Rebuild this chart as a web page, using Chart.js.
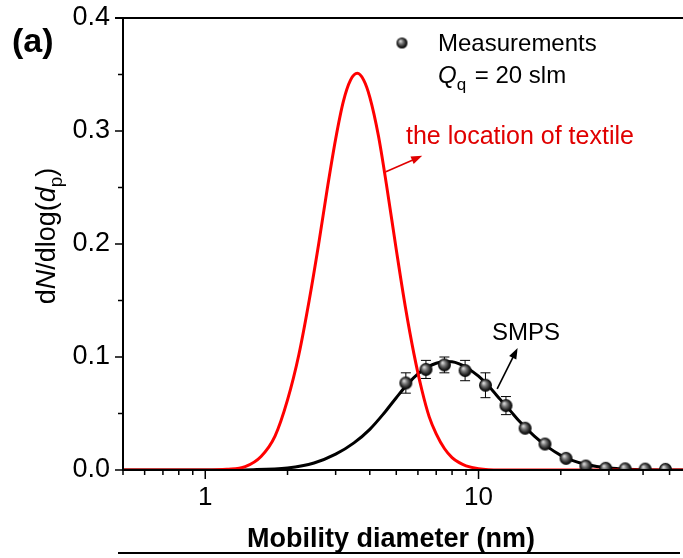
<!DOCTYPE html>
<html lang="en">
<head>
<meta charset="UTF-8">
<title>Size distribution - SMPS vs textile</title>
<script src="https://cdn.jsdelivr.net/npm/chart.js"></script>
<style>
  body { margin: 0; background: #fff; }
  #wrap { width: 683px; height: 558px; }
</style>
</head>
<body>
<div id="wrap"><canvas id="sizeChart" width="683" height="558"></canvas></div>
<script>
// SMPS lognormal fit (black line)
const fitD = [0.5, 1, 1.5, 2, 2.5, 3, 3.5, 4, 4.5, 5, 5.5, 6, 6.5, 7, 7.5, 8, 8.5, 9, 10, 11, 12, 13, 14, 16, 18, 20, 22, 25, 30, 35, 40, 56];
const fitN = [0, 0, 0.0003, 0.0018, 0.0062, 0.014, 0.024, 0.036, 0.050, 0.064, 0.076, 0.085, 0.091, 0.0945, 0.096, 0.0958, 0.094, 0.091, 0.083, 0.073, 0.0625, 0.053, 0.044, 0.030, 0.020, 0.013, 0.0085, 0.0046, 0.0017, 0.0006, 0.0002, 0];

// location of textile (red line)
const textD = [0.5, 1.0, 1.2, 1.4, 1.6, 1.8, 2.0, 2.2, 2.4, 2.6, 2.8, 3.0, 3.2, 3.4, 3.6, 3.8, 4.0, 4.3, 4.6, 5.0, 5.4, 5.8, 6.2, 6.6, 7.0, 7.5, 8.0, 8.5, 9.0, 10, 12, 56];
const textN = [0, 0, 0.0006, 0.003, 0.012, 0.030, 0.062, 0.102, 0.150, 0.200, 0.250, 0.293, 0.326, 0.345, 0.351, 0.345, 0.330, 0.296, 0.253, 0.195, 0.144, 0.103, 0.071, 0.047, 0.032, 0.019, 0.011, 0.0065, 0.0037, 0.0012, 0.0001, 0];

// measurements, Qq = 20 slm
const measD = [5.42, 6.42, 7.5, 8.93, 10.6, 12.6, 14.8, 17.5, 20.9, 24.7, 29.2, 34.4, 40.7, 48.3];
const measN = [0.077, 0.089, 0.093, 0.088, 0.075, 0.057, 0.037, 0.023, 0.0103, 0.0035, 0.0015, 0.001, 0.0008, 0.0006];
const measErr = [0.009, 0.008, 0.007, 0.009, 0.011, 0.008, 0.002, 0.001, 0.001, 0, 0, 0, 0, 0];

const xMajor = [1, 10];
const yLabels = ['0.0', '0.1', '0.2', '0.3', '0.4'];

const FONT = '"Liberation Sans", Arial, sans-serif';

function pts(xs, ys) {
    return xs.map((x, i) => ({ x: x, y: ys[i] }));
}

// shaded ball used for the measurement points
function makeBall(r) {
    const c = document.createElement('canvas');
    c.width = c.height = r * 2 + 2;
    const g = c.getContext('2d');
    const cx = r + 1, cy = r + 1;
    const grad = g.createRadialGradient(cx - r * 0.3, cy - r * 0.35, 0.5, cx, cy, r);
    grad.addColorStop(0, '#d8d8d8');
    grad.addColorStop(0.35, '#777');
    grad.addColorStop(0.75, '#222');
    grad.addColorStop(1, '#000');
    g.fillStyle = grad;
    g.beginPath();
    g.arc(cx, cy, r, 0, Math.PI * 2);
    g.fill();
    return c;
}
const ball = makeBall(6.5);
const ballSmall = makeBall(5.5);

function arrow(ctx, x1, y1, x2, y2, color) {
    const a = Math.atan2(y2 - y1, x2 - x1);
    const len = 11, w = 4;
    ctx.save();
    ctx.strokeStyle = color;
    ctx.fillStyle = color;
    ctx.lineWidth = 1.6;
    ctx.beginPath();
    ctx.moveTo(x1, y1);
    ctx.lineTo(x2 - len * 0.7 * Math.cos(a), y2 - len * 0.7 * Math.sin(a));
    ctx.stroke();
    ctx.beginPath();
    ctx.moveTo(x2, y2);
    ctx.lineTo(x2 - len * Math.cos(a) + w * Math.sin(a), y2 - len * Math.sin(a) - w * Math.cos(a));
    ctx.lineTo(x2 - len * Math.cos(a) - w * Math.sin(a), y2 - len * Math.sin(a) + w * Math.cos(a));
    ctx.closePath();
    ctx.fill();
    ctx.restore();
}

// error bars, drawn just before the measurement points
const errorBars = {
    id: 'errorBars',
    beforeDatasetDraw(chart, args) {
        if (args.index !== 0) return;
        const { ctx, scales: { x, y } } = chart;
        ctx.save();
        ctx.strokeStyle = '#000';
        ctx.lineWidth = 1;
        measD.forEach((d, i) => {
            if (!measErr[i]) return;
            const px = x.getPixelForValue(d);
            const top = y.getPixelForValue(measN[i] + measErr[i]);
            const bot = y.getPixelForValue(measN[i] - measErr[i]);
            ctx.beginPath();
            ctx.moveTo(px, top); ctx.lineTo(px, bot);
            ctx.moveTo(px - 5, top); ctx.lineTo(px + 5, top);
            ctx.moveTo(px - 5, bot); ctx.lineTo(px + 5, bot);
            ctx.stroke();
        });
        ctx.restore();
    }
};

// axes frame, ticks and annotations
const frame = {
    id: 'frame',
    afterDraw(chart) {
        const { ctx, chartArea: a, scales: { x, y } } = chart;
        ctx.save();
        ctx.strokeStyle = '#000';
        ctx.lineWidth = 2;
        ctx.beginPath();
        ctx.moveTo(a.left, a.top); ctx.lineTo(a.left, a.bottom);
        ctx.moveTo(a.left - 1, a.bottom); ctx.lineTo(a.right, a.bottom);
        ctx.moveTo(a.left - 8, a.top); ctx.lineTo(a.right, a.top);
        ctx.stroke();

        ctx.lineWidth = 1.5;
        ctx.beginPath();
        y.ticks.forEach(t => {
            const py = y.getPixelForValue(t.value);
            const len = t.label ? 8 : 5;
            ctx.moveTo(a.left - len, py); ctx.lineTo(a.left, py);
        });
        x.ticks.forEach(t => {
            const m = t.value / Math.pow(10, Math.floor(Math.log10(t.value) + 1e-9));
            if (Math.abs(m - Math.round(m)) > 1e-6) return;
            const px = x.getPixelForValue(t.value);
            const len = t.label ? 9 : 5;
            ctx.moveTo(px, a.bottom); ctx.lineTo(px, a.bottom + len);
        });
        ctx.stroke();

        // panel line below
        ctx.lineWidth = 2;
        ctx.beginPath();
        ctx.moveTo(118, 553); ctx.lineTo(680, 553);
        ctx.stroke();

        ctx.fillStyle = '#000';
        ctx.textBaseline = 'alphabetic';

        // panel tag
        ctx.font = 'bold 34px ' + FONT;
        ctx.fillText('(a)', 12, 52);

        // x title
        ctx.font = 'bold 27px ' + FONT;
        ctx.textAlign = 'center';
        ctx.fillText('Mobility diameter (nm)', 391, 547);
        ctx.textAlign = 'left';

        // y title dN/dlog(dp)
        ctx.save();
        ctx.translate(55, 236);
        ctx.rotate(-Math.PI / 2);
        const parts = [
            ['d', 'normal 27px', 0],
            ['N', 'italic 27px', 0],
            ['/dlog(', 'normal 27px', 0],
            ['d', 'italic 27px', 0],
            ['p', 'normal 19px', 7],
            [')', 'normal 27px', 0]
        ];
        let total = 0;
        parts.forEach(p => { ctx.font = p[1] + ' ' + FONT; total += ctx.measureText(p[0]).width; });
        let cx = -total / 2;
        parts.forEach(p => {
            ctx.font = p[1] + ' ' + FONT;
            ctx.fillText(p[0], cx, p[2]);
            cx += ctx.measureText(p[0]).width;
        });
        ctx.restore();

        // legend
        ctx.drawImage(ballSmall, 402 - 6.5, 43 - 6.5);
        ctx.font = '24px ' + FONT;
        ctx.fillText('Measurements', 438, 51);
        ctx.font = 'italic 24px ' + FONT;
        ctx.fillText('Q', 438, 83);
        let qx = 438 + ctx.measureText('Q').width;
        ctx.font = '17px ' + FONT;
        ctx.fillText('q', qx, 90);
        qx += ctx.measureText('q').width + 2;
        ctx.font = '24px ' + FONT;
        ctx.fillText(' = 20 slm', qx, 83);

        // curve labels
        ctx.fillStyle = '#e00000';
        ctx.font = '25px ' + FONT;
        ctx.fillText('the location of textile', 406, 144);
        ctx.fillStyle = '#000';
        ctx.font = '24px ' + FONT;
        ctx.fillText('SMPS', 492, 340);

        arrow(ctx, x.getPixelForValue(4.58), y.getPixelForValue(0.264),
            x.getPixelForValue(6.22), y.getPixelForValue(0.278), '#e00000');
        arrow(ctx, x.getPixelForValue(11.7), y.getPixelForValue(0.0717),
            x.getPixelForValue(13.9), y.getPixelForValue(0.108), '#000');
        ctx.restore();
    }
};

const ctx = document.getElementById('sizeChart').getContext('2d');
const sizeChart = new Chart(ctx, {
    type: 'line',
    data: {
        datasets: [{
            label: 'Measurements',
            data: pts(measD, measN),
            showLine: false,
            pointStyle: ball,
            pointRadius: 7,
            pointHoverRadius: 7
        }, {
            label: 'the location of textile',
            data: pts(textD, textN),
            borderColor: '#ff0000',
            borderWidth: 3,
            pointRadius: 0,
            cubicInterpolationMode: 'monotone',
            fill: false
        }, {
            label: 'SMPS',
            data: pts(fitD, fitN),
            borderColor: '#000',
            borderWidth: 3,
            pointRadius: 0,
            cubicInterpolationMode: 'monotone',
            fill: false
        }]
    },
    options: {
        responsive: false,
        animation: false,
        devicePixelRatio: 1,
        layout: { autoPadding: false, padding: { left: 0, right: 0, top: 18, bottom: 0 } },
        plugins: { legend: { display: false }, tooltip: { enabled: false } },
        scales: {
            x: {
                type: 'logarithmic',
                min: 0.5,
                max: 56,
                grid: { display: false, drawTicks: false },
                border: { display: false },
                ticks: {
                    autoSkip: false,
                    maxRotation: 0,
                    padding: 12,
                    color: '#000',
                    font: { family: FONT, size: 26 },
                    callback: v => xMajor.includes(v) ? String(v) : ''
                },
                afterFit: s => { s.height = 88; s.paddingLeft = 0; s.paddingRight = 0; }
            },
            y: {
                min: 0,
                max: 0.4,
                grid: { display: false, drawTicks: false },
                border: { display: false },
                ticks: {
                    stepSize: 0.05,
                    padding: 13,
                    color: '#000',
                    font: { family: FONT, size: 27 },
                    callback: v => {
                        const k = Math.round(v * 100);
                        return k % 10 === 0 ? yLabels[k / 10] : '';
                    }
                },
                afterFit: s => { s.width = 123; s.paddingTop = 0; s.paddingBottom = 0; }
            }
        }
    },
    plugins: [errorBars, frame]
});
</script>
</body>
</html>
